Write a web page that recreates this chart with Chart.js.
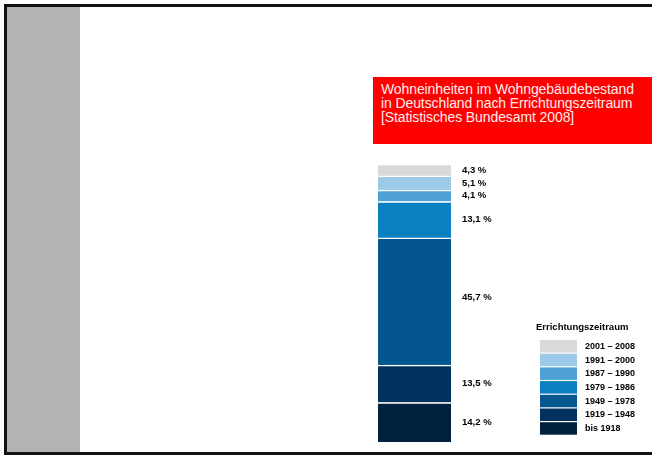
<!DOCTYPE html>
<html>
<head>
<meta charset="utf-8">
<script src="https://cdn.jsdelivr.net/npm/chart.js@4"></script>
<style>
  html, body { margin: 0; padding: 0; background: #fff; }
  #page { position: relative; width: 652px; height: 455px; overflow: hidden; background: #fff; }
  .frame-top { position: absolute; left: 4px; top: 4px; width: 648px; height: 3px; background: #111; }
  .frame-left { position: absolute; left: 4px; top: 4px; width: 3px; height: 451px; background: #111; }
  .frame-bottom { position: absolute; left: 4px; top: 452px; width: 648px; height: 3px; background: #111; }
  .sidebar { position: absolute; left: 7px; top: 7px; width: 73px; height: 445px; background: #b3b3b3; }
  .title {
    position: absolute; left: 373px; top: 77px; width: 279px; height: 67px; background: #ff0000;
    color: #ffecec; font-family: 'Liberation Sans', Arial, sans-serif;
    font-size: 14px; line-height: 14px; letter-spacing: -0.1px; box-sizing: border-box; padding: 5px 0 0 8px;
  }
  #chart { position: absolute; left: 0; top: 0; }
</style>
</head>
<body>
<div id="page">
  <div class="sidebar"></div>
  <div class="frame-top"></div>
  <div class="frame-left"></div>
  <div class="frame-bottom"></div>
  <div class="title">Wohneinheiten im Wohngebäudebestand<br>in Deutschland nach Errichtungszeitraum<br>[Statistisches Bundesamt 2008]</div>
  <canvas id="chart" width="652" height="455"></canvas>
</div>
<script>
  // construction periods, bottom of the stack first
  const PERIODS = ['bis 1918', '1919 – 1948', '1949 – 1978', '1979 – 1986', '1987 – 1990', '1991 – 2000', '2001 – 2008'];
  const SHARES = [14.2, 13.5, 45.7, 13.1, 4.1, 5.1, 4.3];
  const COLORS = ['#01223f', '#02335f', '#04568f', '#0a7fc2', '#4fa0d5', '#9ecae9', '#d9d9d9'];
  const LEGEND_TITLE = 'Errichtungszeitraum';

  const FONT = "'Liberation Sans', Arial, sans-serif";
  const pct = (v) => v.toFixed(1).replace('.', ',') + ' %';

  // value labels right of each segment
  const segLabels = {
    id: 'segLabels',
    afterDatasetsDraw(chart) {
      const ctx = chart.ctx;
      ctx.save();
      ctx.fillStyle = '#000';
      ctx.font = 'bold 9.5px ' + FONT;
      ctx.textBaseline = 'middle';
      ctx.textAlign = 'left';
      chart.data.datasets.forEach((ds, i) => {
        const el = chart.getDatasetMeta(i).data[0];
        let mid = (el.y + el.base) / 2;
        if (ds.data[0] > 40) mid -= 4; // tall segment: label sits a bit above centre
        ctx.fillText(pct(ds.data[0]), chart.chartArea.right + 11, mid);
      });
      ctx.restore();
    },
  };

  // legend box at bottom right, newest period on top
  const sideLegend = {
    id: 'sideLegend',
    afterDraw(chart) {
      const ctx = chart.ctx;
      ctx.save();
      ctx.fillStyle = '#000';
      ctx.font = 'bold 9.5px ' + FONT;
      ctx.textBaseline = 'middle';
      ctx.fillText(LEGEND_TITLE, 536, 327);
      ctx.font = 'bold 9px ' + FONT;
      const items = chart.data.datasets.slice().reverse();
      items.forEach((ds, i) => {
        const y = 340 + i * 13.7;
        ctx.fillStyle = ds.backgroundColor;
        ctx.fillRect(540, y, 37, 12.5);
        ctx.fillStyle = '#000';
        ctx.fillText(ds.label, 585, y + 6.5);
      });
      ctx.restore();
    },
  };

  new Chart(document.getElementById('chart'), {
    type: 'bar',
    data: {
      labels: [''],
      datasets: PERIODS.map((p, i) => ({
        label: p,
        data: [SHARES[i]],
        backgroundColor: COLORS[i],
        borderColor: '#ffffff',
        borderWidth: { top: 1.5, left: 0, right: 0, bottom: 0 },
        borderSkipped: 'start',
        barPercentage: 1,
        categoryPercentage: 1,
      })),
    },
    options: {
      responsive: false,
      animation: false,
      layout: { padding: { left: 378, right: 201, top: 164, bottom: 13 } },
      plugins: { legend: { display: false }, tooltip: { enabled: false } },
      scales: {
        x: { stacked: true, display: false },
        y: { stacked: true, display: false, min: 0, max: 100 },
      },
    },
    plugins: [segLabels, sideLegend],
  });
</script>
</body>
</html>
